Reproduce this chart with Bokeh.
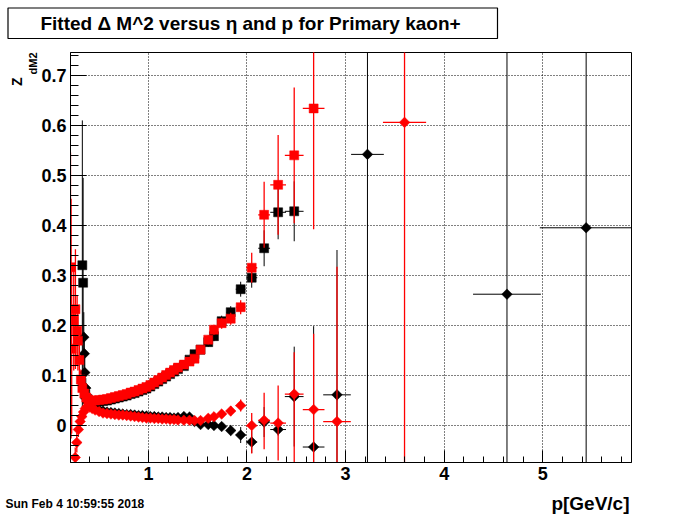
import math
from bokeh.plotting import figure
from bokeh.layouts import column
from bokeh.models import (SingleIntervalTicker, CustomJSTickFormatter, Range1d, Title)
from bokeh.core.properties import value
from bokeh.embed import file_html
from bokeh.resources import INLINE

# ---------------- data ----------------
TITLE = "Fitted \u0394 M^2 versus \u03b7 and p for Primary kaon+"
XLABEL = "p[GeV/c]"
YLABEL_MAIN = "Z"
YLABEL_SUB = "dM2"
STAMP = "Sun Feb  4 10:59:55 2018"

# black squares
bsq_p = [0.330, 0.338, 0.360, 0.380, 0.400, 0.420, 0.460, 0.500, 0.540, 0.580,
         0.620, 0.660, 0.700, 0.740, 0.780, 0.820, 0.860, 0.900, 0.940, 0.980,
         1.020, 1.060, 1.100, 1.140, 1.180, 1.220, 1.260, 1.300,
         1.360, 1.417, 1.468, 1.529, 1.607, 1.665, 1.743, 1.835, 1.936, 2.048,
         2.174, 2.316, 2.479]
bsq_z = [0.321, 0.286, 0.062, 0.053, 0.049, 0.047, 0.047, 0.048, 0.049, 0.050,
         0.052, 0.054, 0.056, 0.058, 0.060, 0.063, 0.065, 0.068, 0.071, 0.074,
         0.078, 0.083, 0.088, 0.093, 0.098, 0.103, 0.108, 0.113,
         0.119, 0.132, 0.143, 0.152, 0.167, 0.179, 0.209, 0.227, 0.273, 0.296,
         0.355, 0.427, 0.429]
bsq_ez = [0.290, 0.210, 0.010, 0.006, 0.005, 0.004, 0.004, 0.004, 0.004, 0.004,
          0.004, 0.004, 0.004, 0.004, 0.004, 0.004, 0.004, 0.004, 0.004, 0.004,
          0.004, 0.004, 0.004, 0.004, 0.004, 0.004, 0.004, 0.004,
          0.006, 0.006, 0.007, 0.008, 0.009, 0.010, 0.011, 0.012, 0.015, 0.020,
          0.036, 0.054, 0.060]
bsq_ep = [0.010] * 28 + [0.025, 0.026, 0.028, 0.032, 0.034, 0.036, 0.040, 0.045,
                         0.050, 0.056, 0.060, 0.080, 0.095]

# red squares
rsq_p = [0.210, 0.216, 0.222, 0.243, 0.260, 0.277, 0.285, 0.300, 0.315, 0.330,
         0.350, 0.370, 0.390, 0.420, 0.460, 0.500, 0.540, 0.580, 0.620, 0.660,
         0.700, 0.740, 0.780, 0.820, 0.860, 0.900, 0.940, 0.980, 1.020, 1.060,
         1.100, 1.140, 1.180, 1.220, 1.260, 1.300, 1.360, 1.417, 1.468, 1.529,
         1.607, 1.665, 1.743, 1.835, 1.936, 2.048, 2.174, 2.316, 2.479, 2.676]
rsq_z = [0.317, 0.214, 0.154, 0.210, 0.233, 0.190, 0.170, 0.131, 0.092, 0.075,
         0.064, 0.056, 0.052, 0.050, 0.050, 0.051, 0.052, 0.053, 0.055, 0.057,
         0.059, 0.061, 0.063, 0.066, 0.068, 0.071, 0.074, 0.077, 0.081, 0.086,
         0.091, 0.096, 0.101, 0.106, 0.111, 0.116, 0.122, 0.128, 0.134, 0.152,
         0.172, 0.192, 0.205, 0.214, 0.237, 0.316, 0.422, 0.482, 0.541, 0.635]
rsq_ez = [0.230, 0.240, 0.170, 0.100, 0.120, 0.070, 0.060, 0.050, 0.020, 0.012,
          0.008, 0.006, 0.005, 0.004, 0.004, 0.004, 0.004, 0.004, 0.004, 0.004,
          0.004, 0.004, 0.004, 0.004, 0.004, 0.004, 0.004, 0.004, 0.004, 0.004,
          0.004, 0.004, 0.005, 0.005, 0.005, 0.005, 0.006, 0.006, 0.007, 0.008,
          0.009, 0.010, 0.011, 0.012, 0.014, 0.030, 0.066, 0.100, 0.136, 0.242]
rsq_ep = [0.010] * 36 + [0.025, 0.026, 0.028, 0.032, 0.034, 0.036, 0.040, 0.045,
                         0.050, 0.056, 0.060, 0.080, 0.095, 0.110]

# black diamonds
bdi_p = [0.345, 0.350, 0.355, 0.365, 0.380, 0.400, 0.430, 0.460, 0.500, 0.540,
         0.580, 0.620, 0.660, 0.700, 0.740, 0.780, 0.820, 0.860, 0.900, 0.940,
         0.980, 1.020, 1.060, 1.100, 1.140, 1.180, 1.220, 1.260, 1.300, 1.360,
         1.417, 1.468, 1.529, 1.607, 1.665, 1.743, 1.835, 1.936, 2.048, 2.174,
         2.316, 2.479, 2.676, 2.913, 3.222, 4.637, 5.440]
bdi_z = [0.177, 0.144, 0.106, 0.075, 0.052, 0.044, 0.038, 0.034, 0.031, 0.029,
         0.027, 0.026, 0.025, 0.024, 0.023, 0.022, 0.022, 0.021, 0.020, 0.020,
         0.019, 0.018, 0.018, 0.017, 0.017, 0.016, 0.016, 0.015, 0.016, 0.018,
         0.017, 0.008, 0.002, 0.002, 0.000, -0.002, -0.010, -0.019, -0.033, 0.007,
         -0.008, 0.058, -0.043, 0.0615, 0.543, 0.263, 0.396]
bdi_ez = [0.050, 0.040, 0.030, 0.020, 0.010, 0.006, 0.005, 0.004, 0.004, 0.004,
          0.004, 0.004, 0.004, 0.004, 0.004, 0.004, 0.004, 0.004, 0.004, 0.004,
          0.004, 0.004, 0.004, 0.004, 0.004, 0.004, 0.004, 0.004, 0.004, 0.004,
          0.005, 0.005, 0.006, 0.006, 0.007, 0.008, 0.010, 0.016, 0.022, 0.030,
          0.012, 0.100, 0.242, 0.290, 1.500, 1.500, 1.500]
bdi_ep = [0.010] * 30 + [0.026, 0.028, 0.032, 0.034, 0.036, 0.040, 0.045, 0.050,
                         0.056, 0.060, 0.080, 0.095, 0.110, 0.140, 0.166, 0.344, 0.470]

# red diamonds
rdi_p = [0.258, 0.274, 0.290, 0.308, 0.325, 0.342, 0.360, 0.380, 0.400, 0.430,
         0.460, 0.500, 0.540, 0.580, 0.620, 0.660, 0.700, 0.740, 0.780, 0.820,
         0.860, 0.900, 0.940, 0.980, 1.020, 1.060, 1.100, 1.140, 1.180, 1.220,
         1.260, 1.300, 1.360, 1.417, 1.468, 1.529, 1.607, 1.665, 1.743, 1.835,
         1.936, 2.048, 2.174, 2.316, 2.479, 2.676, 2.913, 3.598]
rdi_z = [-0.064, -0.034, -0.008, 0.008, 0.018, 0.027, 0.034, 0.038, 0.037, 0.034,
         0.031, 0.028, 0.025, 0.024, 0.023, 0.022, 0.021, 0.021, 0.020, 0.019,
         0.018, 0.017, 0.016, 0.015, 0.015, 0.014, 0.014, 0.013, 0.013, 0.012,
         0.012, 0.011, 0.0105, 0.0105, 0.010, 0.010, 0.0145, 0.0175, 0.023, 0.029,
         0.040, 0.000, 0.0105, 0.005, 0.063, 0.032, 0.008, 0.607]
rdi_ez_lo = [0.020, 0.020, 0.015, 0.012, 0.010, 0.008, 0.006, 0.005, 0.004, 0.004,
             0.004, 0.004, 0.004, 0.004, 0.004, 0.004, 0.004, 0.004, 0.004, 0.004,
             0.004, 0.004, 0.004, 0.004, 0.004, 0.004, 0.004, 0.004, 0.004, 0.004,
             0.004, 0.004, 0.005, 0.005, 0.005, 0.006, 0.006, 0.007, 0.008, 0.010,
             0.012, 0.056, 0.058, 0.075, 0.140, 0.152, 0.310, 1.500]
rdi_ez_hi = [0.020, 0.020, 0.015, 0.012, 0.010, 0.008, 0.006, 0.005, 0.004, 0.004,
             0.004, 0.004, 0.004, 0.004, 0.004, 0.004, 0.004, 0.004, 0.004, 0.004,
             0.004, 0.004, 0.004, 0.004, 0.004, 0.004, 0.004, 0.004, 0.004, 0.004,
             0.004, 0.004, 0.005, 0.005, 0.005, 0.006, 0.006, 0.007, 0.008, 0.010,
             0.012, 0.025, 0.055, 0.075, 0.084, 0.152, 0.310, 1.500]
rdi_ep = [0.010] * 32 + [0.025, 0.026, 0.028, 0.032, 0.034, 0.036, 0.040, 0.045,
                         0.050, 0.056, 0.060, 0.080, 0.095, 0.110, 0.140, 0.219]

X_RANGE = (0.21, 5.90)
Y_RANGE = (-0.074, 0.747)

FONT = "Liberation Sans"
W = 700
TOP_H, MAIN_H, BOT_H = 44, 446, 24          # stacked strips, 514 px in total
FL, FR, FT, FB = 70, 631, 8, 418            # frame edges inside the main figure


def no_align(f):
    try:
        f.frame_align = False
    except Exception:
        pass


def strip(height, y_top):
    f = figure(width=W, height=height, x_range=Range1d(0, W),
               y_range=Range1d(y_top + height, y_top),
               x_axis_type=None, y_axis_type=None, min_border=0,
               toolbar_location=None, output_backend="svg", title=None)
    f.outline_line_color = None
    f.background_fill_color = "white"
    f.border_fill_color = "white"
    no_align(f)
    return f


# ---------------- top strip: title box ----------------
top = strip(TOP_H, 0)
top.quad(left=[7.5], right=[497], top=[7.5], bottom=[38], fill_color="white",
         line_color="black", line_width=1.2)
top.text(x=[250], y=[22.5], text=[TITLE], text_font=value(FONT),
         text_font_style="bold", text_font_size=value("19px"),
         text_align="center", text_baseline="middle", text_color="black")

# ---------------- main plot ----------------
fig = figure(width=W, height=MAIN_H, x_range=Range1d(*X_RANGE),
             y_range=Range1d(*Y_RANGE), output_backend="svg",
             toolbar_location=None, title=None,
             min_border_left=FL, min_border_right=W - FR,
             min_border_top=FT, min_border_bottom=MAIN_H - FB)
no_align(fig)
fig.background_fill_color = "white"
fig.border_fill_color = "white"
fig.outline_line_color = "black"
fig.outline_line_width = 1

fig.xaxis.ticker = SingleIntervalTicker(interval=1, num_minor_ticks=5)
fig.yaxis.ticker = SingleIntervalTicker(interval=0.1, num_minor_ticks=5)
fig.xaxis.formatter = CustomJSTickFormatter(code="return tick.toFixed(0);")
fig.yaxis.formatter = CustomJSTickFormatter(
    code="return Math.abs(tick) < 1e-9 ? '0' : tick.toFixed(1);")
for ax in (fig.xaxis[0], fig.yaxis[0]):
    ax.axis_line_color = "black"
    ax.major_tick_line_color = "black"
    ax.minor_tick_line_color = "black"
    ax.major_tick_out = 0
    ax.minor_tick_out = 0
    ax.major_label_text_font = FONT
    ax.major_label_text_font_style = "bold"
    ax.major_label_text_font_size = "18px"
    ax.major_label_text_color = "black"
    ax.major_label_standoff = 4
fig.xaxis.major_tick_in = 12
fig.xaxis.minor_tick_in = 6
fig.yaxis.major_tick_in = 16
fig.yaxis.minor_tick_in = 8

for g in (fig.xgrid, fig.ygrid):
    g.grid_line_color = "black"
    g.grid_line_dash = "1 2"
    g.grid_line_width = 1

# y-axis title "Z" with subscript "dM2", at the top of the axis
fig.add_layout(Title(text=YLABEL_SUB, align="right", offset=0, standoff=0,
                     text_font=FONT, text_font_style="bold",
                     text_font_size="11px", text_color="black"), "left")
fig.add_layout(Title(text=YLABEL_MAIN, align="right", offset=25, standoff=0,
                     text_font=FONT, text_font_style="bold",
                     text_font_size="14px", text_color="black"), "left")


def draw(px, pz, pep, ez_lo, ez_hi, color, lw, angle, size):
    fig.segment(x0=px, y0=[z - e for z, e in zip(pz, ez_lo)],
                x1=px, y1=[z + e for z, e in zip(pz, ez_hi)],
                line_color=color, line_width=lw)
    fig.segment(x0=[x - e for x, e in zip(px, pep)], y0=pz,
                x1=[x + e for x, e in zip(px, pep)], y1=pz,
                line_color=color, line_width=lw)
    fig.scatter(px, pz, marker="square", size=size, angle=angle,
                fill_color=color, line_color=color, line_width=0.5)


draw(bsq_p, bsq_z, bsq_ep, bsq_ez, bsq_ez, "black", 1.0, 0.0, 9)
draw(bdi_p, bdi_z, bdi_ep, bdi_ez, bdi_ez, "black", 1.0, math.pi / 4, 7.5)
draw(rsq_p, rsq_z, rsq_ep, rsq_ez, rsq_ez, "red", 1.3, 0.0, 9)
draw(rdi_p, rdi_z, rdi_ep, rdi_ez_lo, rdi_ez_hi, "red", 1.3, math.pi / 4, 7.5)

# ---------------- bottom strip: time stamp and x title ----------------
bot = strip(BOT_H, TOP_H + MAIN_H)
bot.text(x=[5], y=[503], text=[STAMP], text_font=value(FONT),
         text_font_style="bold", text_font_size=value("12px"),
         text_align="left", text_baseline="middle", text_color="black")
bot.text(x=[629], y=[503], text=[XLABEL], text_font=value(FONT),
         text_font_style="bold", text_font_size=value("19px"),
         text_align="right", text_baseline="middle", text_color="black")

p = column(top, fig, bot, spacing=0)
open("out.html", "w").write(file_html(p, INLINE))
